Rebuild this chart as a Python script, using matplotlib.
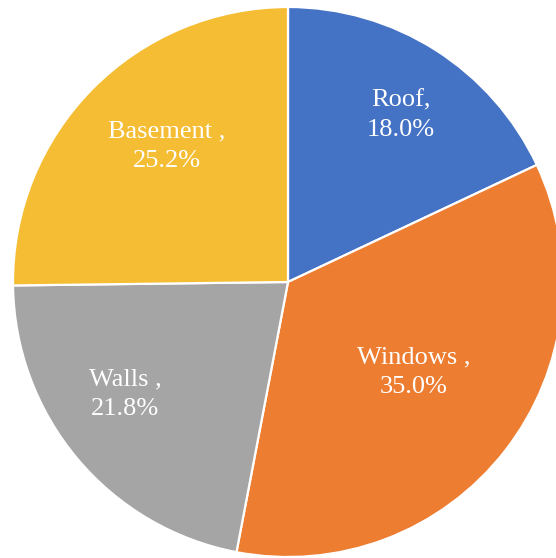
import matplotlib
matplotlib.use("Agg")
import matplotlib.pyplot as plt
import numpy as np

# Share of heat loss by building component
categories = ["Roof", "Windows", "Walls", "Basement"]
shares = [18.0, 35.0, 21.8, 25.2]
label_names = ["Roof,", "Windows ,", "Walls ,", "Basement ,"]

colors = ["#4472C4", "#EC7D31", "#A5A5A5", "#F4BD33"]
# radial position (fraction of radius) and angular nudge (deg) for each label
label_radius = [0.733, 0.563, 0.719, 0.662]
label_nudge = [-1.7, 2.3, -5.5, -3.7]

fig = plt.figure(figsize=(5.56, 5.58), dpi=100)
ax = fig.add_axes([0, 0, 1, 1])

wedges, _ = ax.pie(shares, colors=colors, startangle=90, counterclock=False,
                   radius=1.0, center=(0, 0),
                   wedgeprops=dict(edgecolor="white", linewidth=1.6))

for w, name, val, rf, dn in zip(wedges, label_names, shares, label_radius, label_nudge):
    mid = np.deg2rad((w.theta1 + w.theta2) / 2 + dn)
    ax.text(rf * np.cos(mid), rf * np.sin(mid), f"{name}\n{val:.1f}%",
            ha="center", va="center", color="white", fontsize=19,
            family="Liberation Serif", linespacing=1.45)

# 275 px per unit, centre at (288, 282) px
s = 275.0
ax.set_xlim(-288 / s, (556 - 288) / s)
ax.set_ylim(-(558 - 282) / s, 282 / s)
ax.set_aspect("auto")
ax.axis("off")

fig.savefig("out.png", dpi=100, facecolor="white")
